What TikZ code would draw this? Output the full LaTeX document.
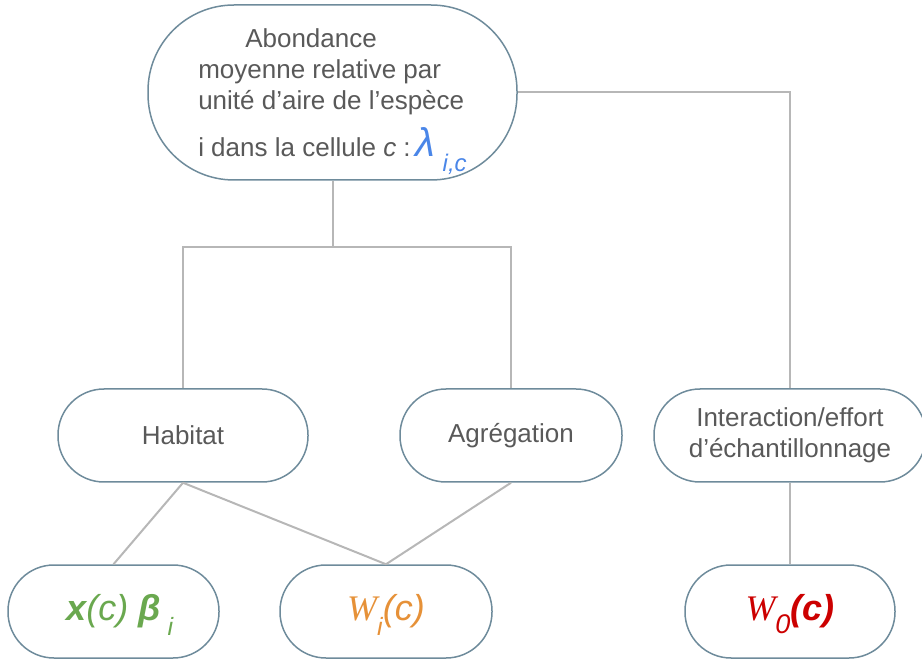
\documentclass[tikz,border=0pt]{standalone}
\usepackage{fontspec}
\setmainfont{Liberation Sans}
\newfontfamily\wserif{Liberation Serif}
\usepackage{tikz}
\definecolor{boxline}{HTML}{6E8B9B}
\definecolor{linkgray}{HTML}{B7B7B7}
\definecolor{txtgray}{HTML}{595959}
\definecolor{lamblue}{HTML}{4A86E8}
\definecolor{betagreen}{HTML}{6AA84F}
\definecolor{worange}{HTML}{E69138}
\definecolor{wred}{HTML}{CC0000}

\begin{document}
\begin{tikzpicture}[x=1pt,y=-1pt,
    pill/.style={draw=boxline, line width=1.5pt, rounded corners=46pt, minimum height=93pt,
      inner sep=0pt, text=txtgray, font=\fontsize{26}{31}\selectfont},
    link/.style={draw=linkgray, line width=2pt},
    sym/.style={font=\fontsize{36}{36}\selectfont\itshape}]
    \useasboundingbox (0,0) rectangle (922,660);
    \node [pill, minimum width=369pt, minimum height=175pt, rounded corners=86pt, align=left] (abond) at (332.5,92.5)
      {\hspace*{47pt}Abondance\\moyenne relative par\\unité d’aire de l’espèce\\[12pt]i dans la cellule \textit{c} :\,{\color{lamblue}\fontsize{40}{40}\selectfont\itshape λ\hspace{8pt}\raisebox{-15pt}[0pt][0pt]{\fontsize{24}{24}\selectfont i,c}}};
    \node [pill, minimum width=250pt] (habitat) at (183,435.5) {Habitat};
    \node [pill, minimum width=222pt] (agreg) at (511,435.5) {Agrégation};
    \node [pill, minimum width=272pt, align=center] (effort) at (790,435.5) {Interaction/effort\\d’échantillonnage};
    \node [pill, sym, text=betagreen, minimum width=211pt] (xbeta) at (113.5,611.5)
      {\textbf{x}(c) \textbf{β}\rlap{\hspace{7pt}\raisebox{-15pt}[0pt][0pt]{\fontsize{25}{25}\selectfont i}}};
    \node [pill, sym, text=worange, minimum width=212pt] (wi) at (386,611.5)
      {{\wserif W}\raisebox{-15pt}[0pt][0pt]{\fontsize{25}{25}\selectfont i}(c)};
    \node [pill, sym, text=wred, minimum width=210pt] (wzero) at (790,611.5)
      {{\wserif W}\raisebox{-13pt}[0pt][0pt]{\fontsize{27}{27}\selectfont 0}\textbf{(c)}};

    \draw [link] (abond.south) -- ++(0,66) coordinate (fork);
    \draw [link] (habitat.north) |- (fork) -| (agreg.north);
    \draw [link] (abond.east) -| (effort.north);
    \draw [link] (habitat.south) -- (xbeta.north);
    \draw [link] (habitat.south) -- (wi.north);
    \draw [link] (agreg.south) -- (wi.north);
    \draw [link] (effort.south) -- (wzero.north);
\end{tikzpicture}
\end{document}
